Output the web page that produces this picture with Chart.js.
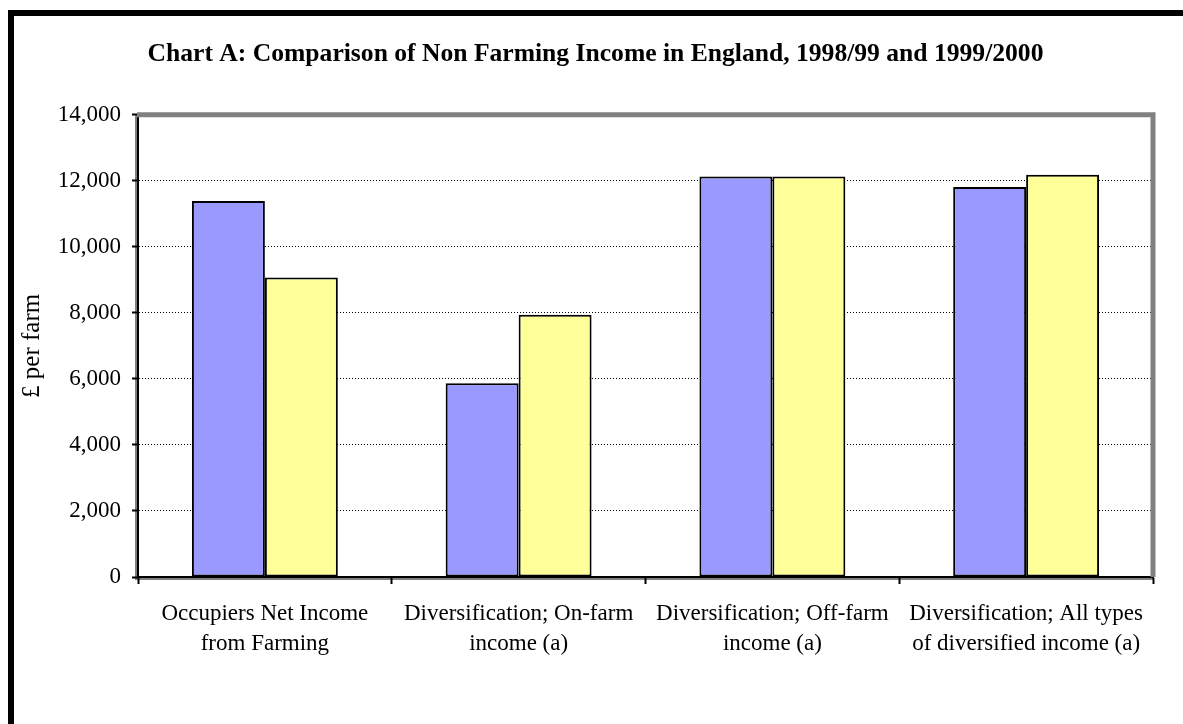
<!DOCTYPE html>
<html>
<head>
<meta charset="utf-8">
<script src="https://cdn.jsdelivr.net/npm/chart.js@4"></script>
<style>
  html, body { margin: 0; padding: 0; background: #fff; }
  #wrap { width: 1183px; height: 724px; position: relative; }
</style>
</head>
<body>
<div id="wrap"><canvas id="chart" width="1183" height="724"></canvas></div>
<script>
const categories = [
    ['Occupiers Net Income', 'from Farming'],
    ['Diversification; On-farm', 'income (a)'],
    ['Diversification; Off-farm', 'income (a)'],
    ['Diversification; All types', 'of diversified income (a)']
];
const income9899 = [11390, 5870, 12130, 11810];
const income9900 = [9070, 7940, 12130, 12180];
const seriesNames = ['1998/99', '1999/2000'];

const serif = "'Times New Roman', 'Liberation Serif', serif";

// white page, black frame on top and left, grey box round the plot
const framePlugin = {
    id: 'frame',
    beforeDraw(chart) {
        const ctx = chart.ctx;
        const a = chart.chartArea;
        ctx.save();
        ctx.fillStyle = '#fff';
        ctx.fillRect(0, 0, chart.width, chart.height);
        ctx.fillStyle = '#000';
        ctx.fillRect(8, 10, chart.width - 8, 6);
        ctx.fillRect(8, 10, 6, chart.height - 10);
        ctx.strokeStyle = '#808080';
        ctx.lineWidth = 2;
        ctx.beginPath();
        ctx.moveTo(a.left - 2, a.top);
        ctx.lineTo(a.left - 2, a.bottom + 2);
        ctx.lineTo(a.right, a.bottom + 2);
        ctx.stroke();
        ctx.restore();
    },
    afterDraw(chart) {
        const ctx = chart.ctx;
        const a = chart.chartArea;
        ctx.save();
        ctx.strokeStyle = '#808080';
        ctx.lineWidth = 5;
        ctx.beginPath();
        ctx.moveTo(a.left - 1, a.top);
        ctx.lineTo(a.right, a.top);
        ctx.lineTo(a.right, a.bottom);
        ctx.stroke();
        ctx.restore();
    }
};

new Chart(document.getElementById('chart').getContext('2d'), {
    type: 'bar',
    data: {
        labels: categories,
        datasets: [
            {
                label: seriesNames[0],
                data: income9899,
                backgroundColor: '#9999ff',
                borderColor: '#000',
                borderWidth: 2,
                borderSkipped: false
            },
            {
                label: seriesNames[1],
                data: income9900,
                backgroundColor: '#ffff99',
                borderColor: '#000',
                borderWidth: 2,
                borderSkipped: false
            }
        ]
    },
    options: {
        responsive: false,
        animation: false,
        devicePixelRatio: 1,
        // left padding keeps the title centred a little right of the page middle
        layout: { padding: { left: 38, right: 30, top: 0, bottom: 0 } },
        datasets: {
            bar: { categoryPercentage: 0.575, barPercentage: 1 }
        },
        plugins: {
            legend: { display: false },
            tooltip: { enabled: false },
            title: {
                display: true,
                text: 'Chart A: Comparison of Non Farming Income in England, 1998/99 and 1999/2000',
                color: '#000',
                font: { family: serif, size: 25.6, weight: 'bold', lineHeight: 1.2 },
                padding: { top: 39, bottom: 45 }
            }
        },
        scales: {
            x: {
                afterFit(scale) { scale.height = 147; },
                grid: {
                    drawOnChartArea: false,
                    drawTicks: true,
                    tickLength: 7,
                    tickColor: '#000',
                    tickWidth: 2
                },
                border: { display: true, color: '#000', width: 2 },
                ticks: {
                    color: '#000',
                    padding: 15,
                    maxRotation: 0,
                    autoSkip: false,
                    font: { family: serif, size: 23, lineHeight: 1.3 }
                }
            },
            y: {
                min: 0,
                max: 14000,
                afterFit(scale) { scale.width = 100; },
                grid: {
                    color: '#000',
                    lineWidth: 1,
                    drawTicks: true,
                    tickLength: 6,
                    tickColor: '#000',
                    tickWidth: 2,
                    tickBorderDash: []
                },
                border: { display: true, color: '#000', width: 2, dash: [1, 2] },
                ticks: {
                    stepSize: 2000,
                    color: '#000',
                    padding: 11,
                    font: { family: serif, size: 23 },
                    callback: v => v.toLocaleString('en-GB')
                },
                title: {
                    display: true,
                    text: '£ per farm',
                    color: '#000',
                    font: { family: serif, size: 25, lineHeight: 1.2 },
                    padding: { top: -21, bottom: 0 }
                }
            }
        }
    },
    plugins: [framePlugin]
});
</script>
</body>
</html>
